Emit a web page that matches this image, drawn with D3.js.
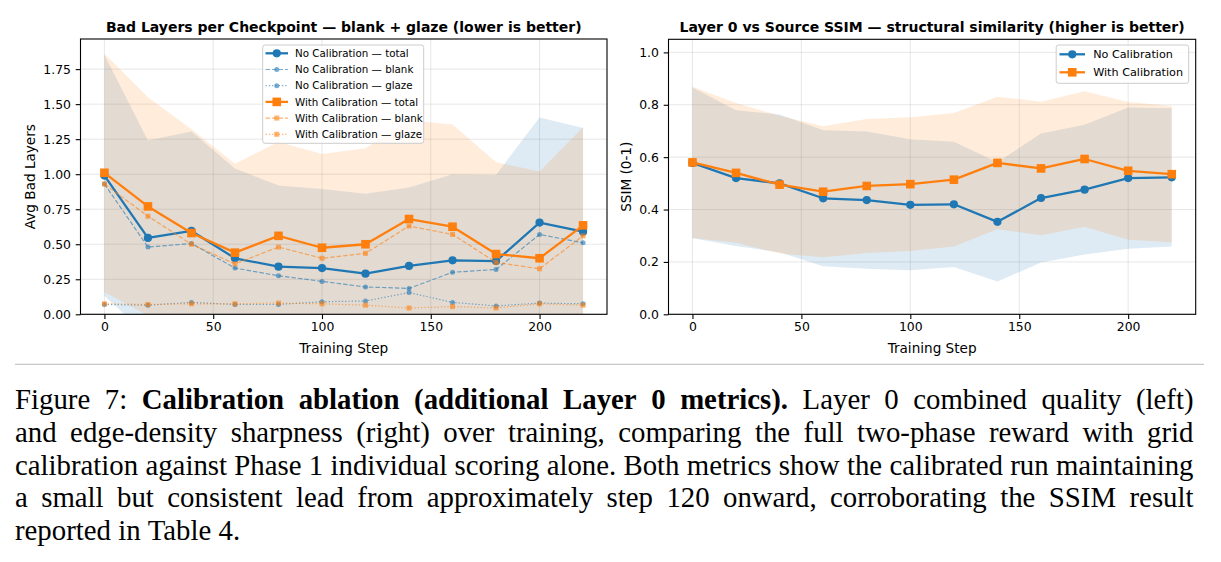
<!DOCTYPE html>
<html>
<head>
<meta charset="utf-8">
<script src="https://cdn.jsdelivr.net/npm/d3@7"></script>
<style>
  body { margin: 0; background: #fff; }
  svg { display: block; }
</style>
</head>
<body>
<div id="chart"></div>
<script>
var w = 1221;
var h = 562;

// ---- data ----
var steps = [0, 20, 40, 60, 80, 100, 120, 140, 160, 180, 200, 220];

// left panel: bad layers per checkpoint
var noCalTotal = [0.99, 0.545, 0.595, 0.40, 0.34, 0.33, 0.29, 0.345, 0.385, 0.38, 0.655, 0.59];
var noCalTotalStd = [0.86, 0.695, 0.71, 0.64, 0.58, 0.565, 0.57, 0.56, 0.615, 0.615, 0.75, 0.74];
var noCalBlank = [0.93, 0.48, 0.505, 0.33, 0.275, 0.235, 0.195, 0.185, 0.30, 0.32, 0.57, 0.51];
var noCalGlaze = [0.07, 0.065, 0.085, 0.07, 0.07, 0.09, 0.095, 0.155, 0.085, 0.06, 0.08, 0.075];
var withCalTotal = [1.01, 0.77, 0.58, 0.44, 0.56, 0.475, 0.50, 0.68, 0.625, 0.43, 0.40, 0.635];
var withCalTotalStd = [0.85, 0.78, 0.74, 0.635, 0.67, 0.67, 0.685, 0.705, 0.73, 0.655, 0.62, 0.70];
var withCalBlank = [0.93, 0.70, 0.50, 0.36, 0.48, 0.40, 0.435, 0.63, 0.57, 0.37, 0.325, 0.56];
var withCalGlaze = [0.075, 0.07, 0.075, 0.075, 0.08, 0.075, 0.065, 0.045, 0.055, 0.045, 0.075, 0.065];

// right panel: layer 0 vs source SSIM
var ssimNoCal = [0.578, 0.52, 0.50, 0.443, 0.436, 0.418, 0.42, 0.353, 0.444, 0.476, 0.52, 0.523];
var ssimNoCalStd = [0.288, 0.259, 0.263, 0.26, 0.262, 0.25, 0.239, 0.228, 0.246, 0.248, 0.27, 0.264];
var ssimWithCal = [0.58, 0.54, 0.495, 0.468, 0.49, 0.497, 0.514, 0.578, 0.557, 0.593, 0.548, 0.535];
var ssimWithCalStd = [0.289, 0.267, 0.263, 0.25, 0.256, 0.255, 0.255, 0.253, 0.255, 0.259, 0.263, 0.26];

var xTicks = [0, 50, 100, 150, 200];
var leftYTicks = [0, 0.25, 0.5, 0.75, 1.0, 1.25, 1.5, 1.75];
var rightYTicks = [0, 0.2, 0.4, 0.6, 0.8, 1.0];

var leftLegend = ["No Calibration — total", "No Calibration — blank", "No Calibration — glaze",
                  "With Calibration — total", "With Calibration — blank", "With Calibration — glaze"];
var rightLegend = ["No Calibration", "With Calibration"];

var captionLines = [
    "Figure 7: **Calibration ablation (additional Layer 0 metrics).** Layer 0 combined quality (left)",
    "and edge-density sharpness (right) over training, comparing the full two-phase reward with grid",
    "calibration against Phase 1 individual scoring alone. Both metrics show the calibrated run maintaining",
    "a small but consistent lead from approximately step 120 onward, corroborating the SSIM result",
    "reported in Table 4."
];

var blue = "#1f77b4";
var orange = "#ff7f0e";
var font = "DejaVu Sans, sans-serif";

var svg = d3.select("#chart").append("svg").attr("width", w).attr("height", h);

function marker(g, shape, cx, cy, size, color, opacity) {
    if (shape == "circle") {
        g.append("circle").attr("cx", cx).attr("cy", cy).attr("r", size / 2)
            .attr("fill", color).attr("fill-opacity", opacity);
    } else {
        g.append("rect").attr("x", cx - size / 2).attr("y", cy - size / 2)
            .attr("width", size).attr("height", size)
            .attr("fill", color).attr("fill-opacity", opacity);
    }
}

function panel(p) {
    var xScale = d3.scaleLinear().domain([-11, 231]).range([p.left, p.right]);
    var yScale = d3.scaleLinear().domain(p.yDomain).range([p.bottom, p.top]);
    var g = svg.append("g");

    g.append("clipPath").attr("id", p.id)
        .append("rect").attr("x", p.left).attr("y", p.top)
        .attr("width", p.right - p.left).attr("height", p.bottom - p.top);

    // grid
    g.selectAll(".gx").data(xTicks).enter().append("line")
        .attr("x1", function (d) { return xScale(d); }).attr("x2", function (d) { return xScale(d); })
        .attr("y1", p.top).attr("y2", p.bottom)
        .attr("stroke", "#b0b0b0").attr("stroke-opacity", 0.3).attr("stroke-width", 1);
    g.selectAll(".gy").data(p.yTicks).enter().append("line")
        .attr("y1", function (d) { return yScale(d); }).attr("y2", function (d) { return yScale(d); })
        .attr("x1", p.left).attr("x2", p.right)
        .attr("stroke", "#b0b0b0").attr("stroke-opacity", 0.3).attr("stroke-width", 1);

    var plot = g.append("g").attr("clip-path", "url(#" + p.id + ")");

    // bands
    p.series.forEach(function (s) {
        if (!s.std) return;
        var area = d3.area()
            .x(function (d, i) { return xScale(steps[i]); })
            .y0(function (d, i) { return yScale(d - s.std[i]); })
            .y1(function (d, i) { return yScale(d + s.std[i]); });
        plot.append("path").datum(s.values).attr("d", area)
            .attr("fill", s.color).attr("fill-opacity", 0.15);
    });

    // lines
    p.series.forEach(function (s) {
        var line = d3.line()
            .x(function (d, i) { return xScale(steps[i]); })
            .y(function (d) { return yScale(d); });
        plot.append("path").datum(s.values).attr("d", line)
            .attr("fill", "none").attr("stroke", s.color).attr("stroke-width", s.lw)
            .attr("stroke-opacity", s.alpha).attr("stroke-dasharray", s.dash)
            .attr("stroke-linejoin", "round");
        s.values.forEach(function (v, i) {
            marker(plot, s.shape, xScale(steps[i]), yScale(v), s.ms, s.color, s.alpha);
        });
    });

    // axes
    var xAxis = d3.axisBottom(xScale).tickValues(xTicks).tickSize(4.8).tickPadding(3.5)
        .tickFormat(d3.format("d"));
    var gx = g.append("g").attr("transform", "translate(0," + p.bottom + ")").call(xAxis);
    var yAxis = d3.axisLeft(yScale).tickValues(p.yTicks).tickSize(4.8).tickPadding(4.8)
        .tickFormat(d3.format(p.yFormat));
    var gy = g.append("g").attr("transform", "translate(" + p.left + ",0)").call(yAxis);
    [gx, gy].forEach(function (a) {
        a.select(".domain").remove();
        a.selectAll("line").attr("stroke", "#000").attr("stroke-width", 1.1);
        a.selectAll("text").attr("font-family", font).attr("font-size", 12.4).attr("fill", "#000");
    });

    // frame
    g.append("rect").attr("x", p.left).attr("y", p.top)
        .attr("width", p.right - p.left).attr("height", p.bottom - p.top)
        .attr("fill", "none").attr("stroke", "#000").attr("stroke-width", 1.1);

    // title and labels
    g.append("text").attr("x", (p.left + p.right) / 2).attr("y", 31.7)
        .attr("text-anchor", "middle").attr("font-family", font).attr("font-weight", "bold")
        .attr("font-size", 14).text(p.title);
    g.append("text").attr("x", (p.left + p.right) / 2).attr("y", 352.5)
        .attr("text-anchor", "middle").attr("font-family", font)
        .attr("font-size", 13.6).text("Training Step");
    g.append("text")
        .attr("transform", "translate(" + p.ylabelX + "," + ((p.top + p.bottom) / 2) + ") rotate(-90)")
        .attr("text-anchor", "middle").attr("font-family", font)
        .attr("font-size", 13.6).text(p.ylabel);

    // legend
    var L = p.legend;
    g.append("rect").attr("x", L.x).attr("y", L.y).attr("width", L.w).attr("height", L.h)
        .attr("rx", 2.5).attr("fill", "#fff").attr("fill-opacity", 0.8)
        .attr("stroke", "#cccccc").attr("stroke-width", 1);
    p.series.forEach(function (s, i) {
        var cy = L.y0 + i * L.dy;
        g.append("line").attr("x1", L.hx0).attr("x2", L.hx1).attr("y1", cy).attr("y2", cy)
            .attr("stroke", s.color).attr("stroke-width", s.lw).attr("stroke-opacity", s.alpha)
            .attr("stroke-dasharray", s.dash);
        marker(g, s.shape, (L.hx0 + L.hx1) / 2, cy, s.ms, s.color, s.alpha);
        g.append("text").attr("x", L.tx).attr("y", cy + L.fs * 0.36)
            .attr("font-family", font).attr("font-size", L.fs).text(L.labels[i]);
    });
}

panel({
    id: "clipL", left: 80.5, right: 607, top: 39, bottom: 314.3,
    yDomain: [0, 1.965], yTicks: leftYTicks, yFormat: ".2f",
    title: "Bad Layers per Checkpoint — blank + glaze (lower is better)",
    ylabel: "Avg Bad Layers", ylabelX: 35,
    series: [
        { values: noCalTotal, std: noCalTotalStd, color: blue, lw: 2.3, alpha: 1, dash: null, shape: "circle", ms: 8.2 },
        { values: noCalBlank, color: blue, lw: 1.2, alpha: 0.6, dash: "4.5,2", shape: "circle", ms: 5 },
        { values: noCalGlaze, color: blue, lw: 1.2, alpha: 0.6, dash: "1.3,2", shape: "circle", ms: 5 },
        { values: withCalTotal, std: withCalTotalStd, color: orange, lw: 2.3, alpha: 1, dash: null, shape: "square", ms: 8.6 },
        { values: withCalBlank, color: orange, lw: 1.2, alpha: 0.6, dash: "4.5,2", shape: "square", ms: 5 },
        { values: withCalGlaze, color: orange, lw: 1.2, alpha: 0.6, dash: "1.3,2", shape: "square", ms: 5 }
    ],
    legend: { x: 262.7, y: 45, w: 161, h: 98.3, y0: 53.3, dy: 16.2, hx0: 265.5, hx1: 288, tx: 295, fs: 10.3, labels: leftLegend }
});

panel({
    id: "clipR", left: 668.5, right: 1195.7, top: 39.3, bottom: 314.3,
    yDomain: [0, 1.05], yTicks: rightYTicks, yFormat: ".1f",
    title: "Layer 0 vs Source SSIM — structural similarity (higher is better)",
    ylabel: "SSIM (0-1)", ylabelX: 631,
    series: [
        { values: ssimNoCal, std: ssimNoCalStd, color: blue, lw: 2.3, alpha: 1, dash: null, shape: "circle", ms: 8.2 },
        { values: ssimWithCal, std: ssimWithCalStd, color: orange, lw: 2.3, alpha: 1, dash: null, shape: "square", ms: 8.6 }
    ],
    legend: { x: 1056.2, y: 45, w: 132.5, h: 38.3, y0: 54.3, dy: 18, hx0: 1059.5, hx1: 1085, tx: 1093.2, fs: 11.2, labels: rightLegend }
});

// separator
svg.append("line").attr("x1", 15).attr("x2", 1204).attr("y1", 364.3).attr("y2", 364.3)
    .attr("stroke", "#c8c8c8").attr("stroke-width", 1.2);

// caption, justified word by word
var capLeft = 15, capRight = 1193.5, capFs = 28.8;
captionLines.forEach(function (line, li) {
    var words = [];
    var bold = false;
    line.split("**").forEach(function (part, pi) {
        bold = pi % 2 == 1;
        part.split(" ").filter(function (t) { return t.length; }).forEach(function (t) {
            words.push({ t: t, b: bold });
        });
    });
    var y = 409.3 + li * 32.7;
    var nodes = words.map(function (wd) {
        return svg.append("text").attr("y", y).attr("font-family", "Liberation Serif, Times New Roman, serif")
            .attr("font-size", capFs).attr("font-weight", wd.b ? "bold" : "normal").text(wd.t);
    });
    var widths = nodes.map(function (n) { return n.node().getComputedTextLength(); });
    var total = d3.sum(widths);
    var gap = capFs * 0.25;
    if (li < captionLines.length - 1) gap = (capRight - capLeft - total) / (words.length - 1);
    var x = capLeft;
    nodes.forEach(function (n, i) {
        n.attr("x", x);
        x += widths[i] + gap;
    });
});
</script>
</body>
</html>
